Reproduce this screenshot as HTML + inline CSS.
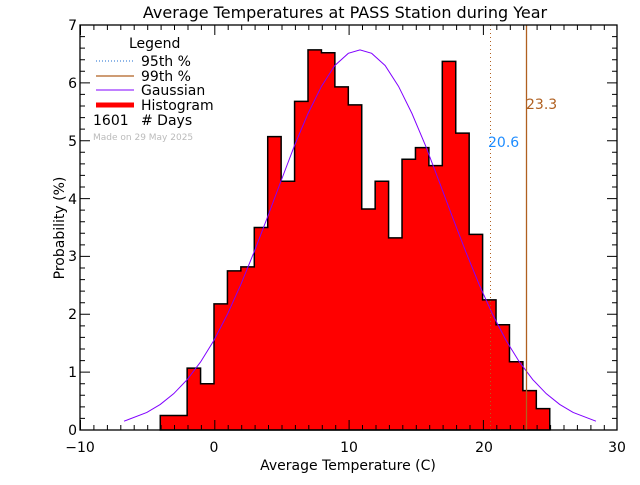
<!DOCTYPE html>
<html><head><meta charset="utf-8"><style>
html,body{margin:0;padding:0;background:#fff;}
svg text{font-family:"DejaVu Sans","Liberation Sans",sans-serif;}
</style></head><body>
<svg width="640" height="480" viewBox="0 0 640 480" xmlns="http://www.w3.org/2000/svg">
<rect width="640" height="480" fill="#fff"/>
<g transform="translate(214,430) scale(13.43,-57.86)">
<path d="M-4,0 L-4,0.25 L-2,0.25 L-2,1.07 L-1,1.07 L-1,0.8 L0,0.8 L0,2.18 L1,2.18 L1,2.75 L2,2.75 L2,2.82 L3,2.82 L3,3.5 L4,3.5 L4,5.07 L5,5.07 L5,4.3 L6,4.3 L6,5.68 L7,5.68 L7,6.57 L8,6.57 L8,6.52 L9,6.52 L9,5.93 L10,5.93 L10,5.62 L11,5.62 L11,3.82 L12,3.82 L12,4.3 L13,4.3 L13,3.32 L14,3.32 L14,4.68 L15,4.68 L15,4.88 L16,4.88 L16,4.57 L17,4.57 L17,6.37 L18,6.37 L18,5.13 L19,5.13 L19,3.38 L20,3.38 L20,2.25 L21,2.25 L21,1.82 L22,1.82 L22,1.18 L23,1.18 L23,0.68 L24,0.68 L24,0.37 L25,0.37 L25,0 Z" fill="#ff0000" stroke="#000" stroke-width="1.5" vector-effect="non-scaling-stroke"/>
<polyline fill="none" stroke="#8000ff" stroke-width="1" vector-effect="non-scaling-stroke" points="-6.7,0.152 -5,0.304 -4,0.442 -3,0.628 -2,0.870 -1,1.176 0,1.551 1,2.00 2,2.515 3,3.085 4,3.69 5,4.31 6,4.92 7,5.47 8,5.94 9,6.30 10,6.51 10.87,6.57 11.74,6.51 12.74,6.30 13.74,5.94 14.74,5.47 15.74,4.92 16.74,4.31 17.74,3.69 18.74,3.085 19.74,2.515 20.74,2.00 21.74,1.551 22.74,1.176 23.74,0.870 24.74,0.628 25.74,0.442 26.74,0.304 28.44,0.152"/>
</g>
<line x1="490.5" y1="25" x2="490.5" y2="430" stroke="#b06020" stroke-width="1" stroke-dasharray="1,3"/>
<line x1="526.5" y1="25" x2="526.5" y2="430" stroke="#b06020" stroke-width="1.3"/>
<text x="488" y="147" font-size="14" fill="#1e8cff">20.6</text>
<text x="526" y="109" font-size="14" fill="#b06020">23.3</text>
<rect x="80" y="25" width="537" height="405" fill="none" stroke="#000" stroke-width="1.3"/>
<g stroke="#000" stroke-width="1">
<path id="xt" d="M80.5,430v-10M214.8,430v-10M349.1,430v-10M483.4,430v-10M80.5,25v10M214.8,25v10M349.1,25v10M483.4,25v10"/>
<path d="M93.9,430v-5M107.4,430v-5M120.8,430v-5M134.2,430v-5M147.7,430v-5M161.1,430v-5M174.5,430v-5M188,430v-5M201.4,430v-5M228.2,430v-5M241.7,430v-5M255.1,430v-5M268.5,430v-5M282,430v-5M295.4,430v-5M308.8,430v-5M322.3,430v-5M335.7,430v-5M362.5,430v-5M376,430v-5M389.4,430v-5M402.8,430v-5M416.3,430v-5M429.7,430v-5M443.1,430v-5M456.6,430v-5M470,430v-5M496.8,430v-5M510.3,430v-5M523.7,430v-5M537.1,430v-5M550.6,430v-5M564,430v-5M577.4,430v-5M590.9,430v-5M604.3,430v-5"/>
<path d="M93.9,25v5M107.4,25v5M120.8,25v5M134.2,25v5M147.7,25v5M161.1,25v5M174.5,25v5M188,25v5M201.4,25v5M228.2,25v5M241.7,25v5M255.1,25v5M268.5,25v5M282,25v5M295.4,25v5M308.8,25v5M322.3,25v5M335.7,25v5M362.5,25v5M376,25v5M389.4,25v5M402.8,25v5M416.3,25v5M429.7,25v5M443.1,25v5M456.6,25v5M470,25v5M496.8,25v5M510.3,25v5M523.7,25v5M537.1,25v5M550.6,25v5M564,25v5M577.4,25v5M590.9,25v5M604.3,25v5"/>
<path d="M80,372.1h10M80,314.3h10M80,256.4h10M80,198.6h10M80,140.7h10M80,82.9h10M617,372.1h-10M617,314.3h-10M617,256.4h-10M617,198.6h-10M617,140.7h-10M617,82.9h-10"/>
<path d="M80,418.4h5M80,406.9h5M80,395.3h5M80,383.7h5M80,360.6h5M80,349h5M80,337.4h5M80,325.9h5M80,302.7h5M80,291.1h5M80,279.6h5M80,268h5M80,244.9h5M80,233.3h5M80,221.7h5M80,210.1h5M80,187h5M80,175.4h5M80,163.9h5M80,152.3h5M80,129.1h5M80,117.6h5M80,106h5M80,94.4h5M80,71.3h5M80,59.7h5M80,48.1h5M80,36.6h5"/>
<path d="M617,418.4h-5M617,406.9h-5M617,395.3h-5M617,383.7h-5M617,360.6h-5M617,349h-5M617,337.4h-5M617,325.9h-5M617,302.7h-5M617,291.1h-5M617,279.6h-5M617,268h-5M617,244.9h-5M617,233.3h-5M617,221.7h-5M617,210.1h-5M617,187h-5M617,175.4h-5M617,163.9h-5M617,152.3h-5M617,129.1h-5M617,117.6h-5M617,106h-5M617,94.4h-5M617,71.3h-5M617,59.7h-5M617,48.1h-5M617,36.6h-5"/>
</g>
<g font-size="14" fill="#000" text-anchor="middle">
<text x="80" y="452">−10</text><text x="214" y="452">0</text><text x="349" y="452">10</text><text x="484" y="452">20</text><text x="617" y="452">30</text>
<text x="348" y="470">Average Temperature (C)</text>
<text x="345" y="18" font-size="16">Average Temperatures at PASS Station during Year</text>
</g>
<g font-size="14" fill="#000" text-anchor="end">
<text x="77" y="435">0</text><text x="77" y="377">1</text><text x="77" y="319">2</text><text x="77" y="261">3</text><text x="77" y="204">4</text><text x="77" y="146">5</text><text x="77" y="88">6</text><text x="77" y="30">7</text>
</g>
<text transform="translate(64,228) rotate(-90)" font-size="14" text-anchor="middle">Probability (%)</text>
<text x="129" y="48" font-size="14">Legend</text>
<line x1="96" y1="61" x2="134" y2="61" stroke="#1e6ed0" stroke-dasharray="1,2"/>
<text x="141" y="66" font-size="14">95th %</text>
<line x1="96" y1="76" x2="134" y2="76" stroke="#b06020" stroke-width="1.3"/>
<text x="141" y="81" font-size="14">99th %</text>
<line x1="96" y1="90" x2="134" y2="90" stroke="#8000ff"/>
<text x="141" y="95" font-size="14">Gaussian</text>
<line x1="96" y1="105" x2="134" y2="105" stroke="#ff0000" stroke-width="5"/>
<text x="141" y="110" font-size="14">Histogram</text>
<text x="93" y="125" font-size="14">1601</text>
<text x="141" y="125" font-size="14"># Days</text>
<text x="93" y="140" font-size="9" fill="#bbb">Made on 29 May 2025</text>
</svg>
</body></html>
